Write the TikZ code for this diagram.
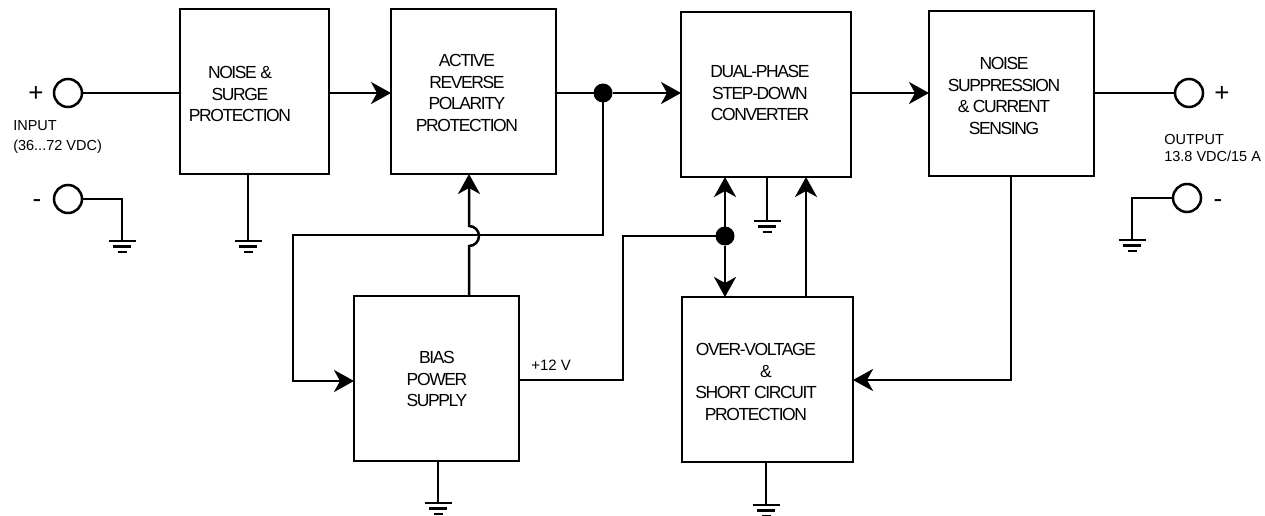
\documentclass[tikz,border=0pt]{standalone}
\usepackage{fontspec}
\setmainfont{Liberation Sans}
\newfontfamily\boxfont{Liberation Sans}[LetterSpace=-8]
\usetikzlibrary{arrows.meta,calc}
\tikzset{
  gnd/.pic={
    \draw (-13.5,0) -- (13.5,0);
    \draw (-9,5.5) -- (9,5.5);
    \draw (-4.5,11) -- (4.5,11);
  }
}
\begin{document}
\begin{tikzpicture}[x=1pt,y=-1pt,line width=2.5pt,
  box/.style={draw,rectangle,inner sep=0pt,outer sep=0pt,minimum height=165pt},
  btxt/.style={align=center,font=\boxfont\fontsize{17.5}{21.8}\selectfont,inner sep=0pt},
  arr/.style={-{Stealth[length=20pt,width=22pt,inset=6pt]}},
  dot/.style={circle,fill,inner sep=0pt,outer sep=0pt,minimum size=19pt},
  term/.style={circle,draw,inner sep=0pt,outer sep=0pt,minimum size=28pt},
  lbl/.style={font=\fontsize{14.5}{17}\selectfont,inner sep=0pt},
  sign/.style={font=\fontsize{26}{26}\selectfont,inner sep=0pt,anchor=base}]
\useasboundingbox (0,0) rectangle (1265,516);

% blocks
\node[box,minimum width=149pt] (ns) at (254.5,91.5) {};
\node[btxt] (nst) at (240,94) {NOISE \&\\SURGE\\PROTECTION};
\node[box,minimum width=165pt] (ar) at (473.5,91.5) {};
\node[btxt] (art) at (467,93) {ACTIVE\\REVERSE\\POLARITY\\PROTECTION};
\node[box,minimum width=170pt] (dp) at (766,94.5) {};
\node[btxt] (dpt) at (760,93) {DUAL-PHASE\\STEP-DOWN\\CONVERTER};
\node[box,minimum width=165pt] (nsp) at (1011.5,93.5) {};
\node[btxt] (nspt) at (1004,96) {NOISE\\SUPPRESSION\\\& CURRENT\\SENSING};
\node[box,minimum width=165pt] (bias) at (436.5,378.5) {};
\node[btxt] (biast) at (437,379) {BIAS\\POWER\\SUPPLY};
\node[box,minimum width=171pt] (ov) at (767.5,379.5) {};
\node[btxt] (ovt) at (756,382) {OVER-VOLTAGE\\\hspace*{20pt}\&\\SHORT CIRCUIT\\PROTECTION};

% terminals
\node[term] (inp) at (68,93) {};
\node[term] (inm) at (68,199) {};
\node[term] (outp) at (1189,93) {};
\node[term] (outm) at (1187,198) {};
\node[sign] (sp1) at (36,102) {+};
\node[sign] (sm1) at (37,207) {-};
\node[sign] (sp2) at (1222,102) {+};
\node[sign] (sm2) at (1218,207) {-};

% labels
\node[lbl,anchor=base west] (in1) at (12,131) {INPUT};
\node[lbl,anchor=base west] (in2) at (12,150) {(36...72 VDC)};
\node[lbl,anchor=base west] (out1) at (1163,144) {OUTPUT};
\node[lbl,anchor=base west] (out2) at (1163,161) {13.8 VDC/15 A};
\node[lbl,anchor=base west,font=\fontsize{15}{17}\selectfont] (v12) at (530,370) {+12 V};

% input side
\draw (inp.east) -- (ns.west |- inp);
\coordinate (g1) at (122,241);
\draw (inm.east) -| (g1);
\pic at (g1) {gnd};
\coordinate (g2) at (248,241);
\draw (ns.south -| g2) -- (g2);
\pic at (g2) {gnd};

% main chain
\draw[arr] (ns.east |- inp) -- (ar.west |- inp);
\node[dot] (d1) at (603,93) {};
\draw (ar.east |- d1) -- (d1);
\draw[arr] (d1) -- (dp.west |- d1);

% loop to bias supply
\coordinate (c1) at (293,235);
\coordinate (c2) at (293,381);
\draw[arr] (d1.center) |- (c1) -- (c2) -- (bias.west |- c2);

% bias to active reverse polarity, jumping over the loop
\coordinate (j) at (469,236);
\draw[arr] (bias.north -| j) -- ($(j)+(0,10)$) arc[start angle=90,end angle=-90,radius=10] -- (ar.south -| j);

% +12 V distribution
\coordinate (c3) at (623,380);
\node[dot] (d2) at (725,236) {};
\draw (bias.east |- c3) -- (c3) |- (d2.center);
\draw[arr] (d2) -- (dp.south -| d2);
\draw[arr] (d2) -- (ov.north -| d2);

% over-voltage feedback to converter
\coordinate (c4) at (806,297);
\draw[arr] (ov.north -| c4) -- (dp.south -| c4);

% converter ground
\coordinate (g3) at (767,221);
\draw (dp.south -| g3) -- (g3);
\pic at (g3) {gnd};

% converter to noise suppression
\draw[arr] (dp.east |- inp) -- (nsp.west |- inp);

% current sensing to over-voltage
\coordinate (c5) at (1011,380);
\draw[arr] (nsp.south -| c5) -- (c5) -- (ov.east |- c5);

% output side
\draw (nsp.east |- outp) -- (outp.west);
\coordinate (g4) at (1132,240);
\draw (outm.west) -| (g4);
\pic at (g4) {gnd};

% bottom grounds
\coordinate (g5) at (438,503);
\draw (bias.south -| g5) -- (g5);
\pic at (g5) {gnd};
\coordinate (g6) at (766,505);
\draw (ov.south -| g6) -- (g6);
\pic at (g6) {gnd};
\end{tikzpicture}
\end{document}
